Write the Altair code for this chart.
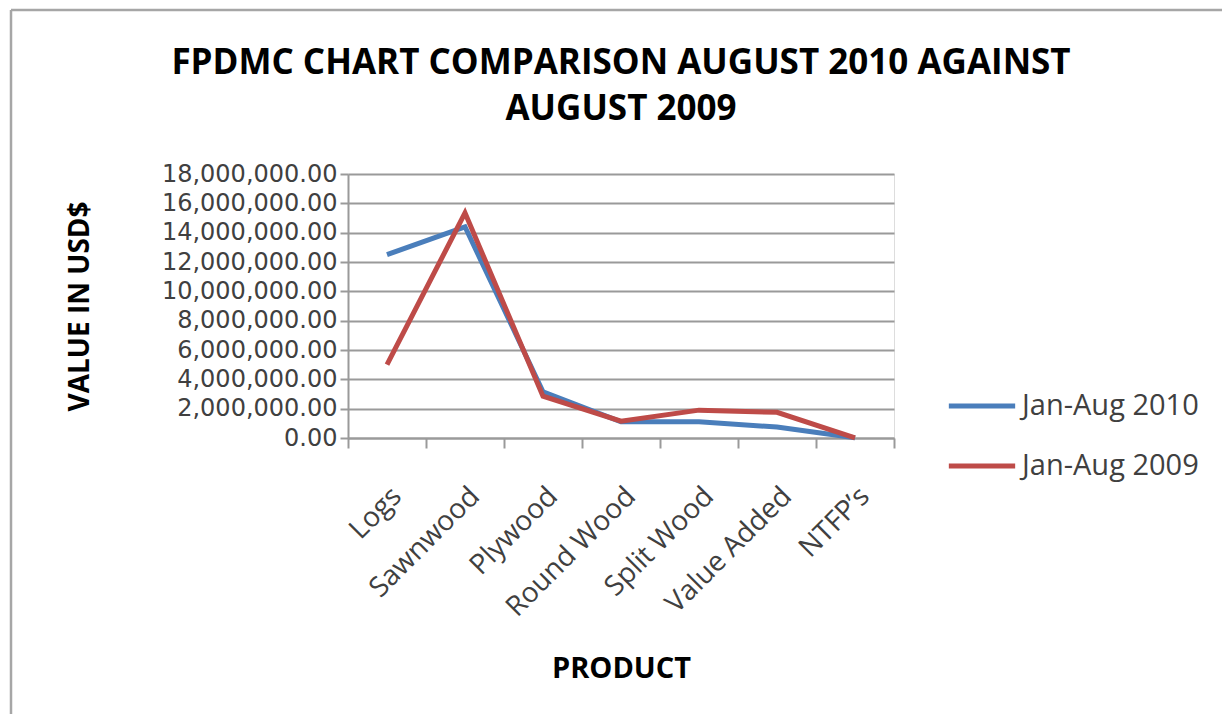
import altair as alt
import pandas as pd

categories = ["Logs", "Sawnwood", "Plywood", "Round Wood", "Split Wood", "Value Added", "NTFP\u2019s"]
series_names = ["Jan-Aug 2010", "Jan-Aug 2009"]
values_2010 = [12500000, 14400000, 3150000, 1100000, 1100000, 750000, 20000]
values_2009 = [5000000, 15350000, 2850000, 1150000, 1900000, 1750000, 10000]
y_ticks = [0, 2000000, 4000000, 6000000, 8000000, 10000000, 12000000, 14000000, 16000000, 18000000]

rows = []
for s, vals in zip(series_names, [values_2010, values_2009]):
    for c, v in zip(categories, vals):
        rows.append({"Product": c, "Series": s, "Value": v})
df = pd.DataFrame(rows)

FONT = "Open Sans"
TXT = "#404040"
GRID = "#9a9a9a"

lines = alt.Chart(df).mark_line(strokeWidth=5, clip=False).encode(
    x=alt.X("Product:N", sort=categories, bandPosition=0.5,
            scale=alt.Scale(type="band", paddingInner=0, paddingOuter=0),
            axis=alt.Axis(title="PRODUCT", labelAngle=-45, tickBand="extent", grid=False,
                          labelFontSize=28, labelFont=FONT, labelColor=TXT, labelPadding=34,
                          tickSize=10, tickColor=GRID, domainColor=GRID,
                          tickWidth=2, domainWidth=2,
                          titleFontSize=29, titleFont=FONT, titleFontWeight="bold",
                          titleColor="#000000", titlePadding=33)),
    y=alt.Y("Value:Q", scale=alt.Scale(domain=[0, 18000000], nice=False),
            axis=alt.Axis(title="VALUE IN USD$", values=y_ticks, format=",.2f",
                          labelFontSize=24, labelFont="DejaVu Sans", labelColor=TXT, labelPadding=3,
                          tickSize=8, tickColor=GRID, domainColor=GRID,
                          tickWidth=2, domainWidth=2, gridColor=GRID, gridWidth=2,
                          titleFontSize=28, titleFont=FONT, titleFontWeight="bold",
                          titleColor="#000000", titlePadding=67)),
    color=alt.Color("Series:N", sort=series_names,
                    scale=alt.Scale(domain=series_names, range=["#4a7ebb", "#be4b48"]),
                    legend=alt.Legend(title=None, orient="none", legendX=598, legendY=196,
                                      symbolType="stroke", symbolSize=4400, symbolStrokeWidth=5,
                                      labelFontSize=29, labelFont=FONT, labelColor=TXT,
                                      labelOffset=4, rowPadding=9, labelLimit=300)),
    order=alt.Order("Series:N", sort="descending"),
)

frame_df = pd.DataFrame({"k": [0]})
frame_left = alt.Chart(frame_df).mark_rule(color="#a6a6a6", strokeWidth=2.5).encode(
    x=alt.value(-337), y=alt.value(-164), y2=alt.value(540))
frame_top = alt.Chart(frame_df).mark_rule(color="#a6a6a6", strokeWidth=2.5).encode(
    x=alt.value(-337), x2=alt.value(874), y=alt.value(-164))

chart = alt.layer(frame_left, frame_top, lines).properties(
    width=546, height=264,
    title=alt.Title(["FPDMC CHART COMPARISON AUGUST 2010 AGAINST", "AUGUST 2009"],
                    fontSize=35, font=FONT, fontWeight="bold", color="#000000",
                    lineHeight=46, offset=-118, anchor="middle"),
    padding={"left": 1, "top": 0, "right": 0, "bottom": 0},
).configure_view(stroke=None).configure(background="white")

chart.save("out.html", embed_options={"renderer": "svg", "actions": False})
